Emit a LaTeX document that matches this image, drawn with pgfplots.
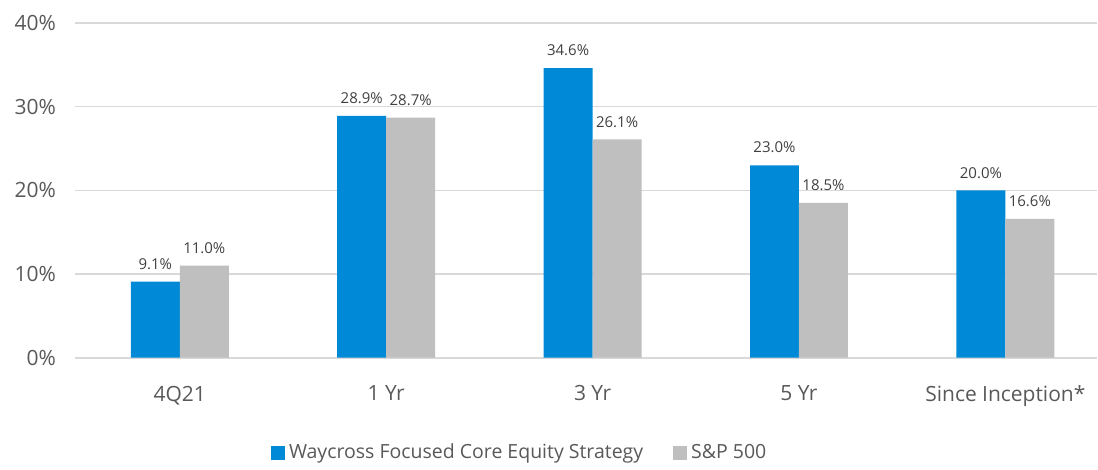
\documentclass[border=0pt]{standalone}
\usepackage{fontspec}
\setmainfont{Open Sans}
\usepackage{pgfplots}
\pgfplotsset{compat=1.18}
\definecolor{cblue}{HTML}{0089D6}
\definecolor{cgray}{HTML}{BFBFBF}
\definecolor{cgrid}{HTML}{D9D9D9}
\definecolor{ctext}{HTML}{595959}
\definecolor{clabel}{HTML}{404040}
\begin{document}
\begin{tikzpicture}
\begin{axis}[
  at={(0,0)}, anchor=south west,
  scale only axis,
  width=511.5pt, height=167.5pt,
  xmin=-0.508, xmax=4.445,
  ymin=0, ymax=40,
  ytick={0,10,20,30,40},
  yticklabels={0\%,10\%,20\%,30\%,40\%},
  xtick={0,1,2,3,4},
  xticklabels={4Q21,1 Yr,3 Yr,5 Yr,Since Inception*},
  axis line style={draw=none},
  major tick length=0pt,
  ymajorgrids,
  grid style={cgrid, line width=0.8pt},
  tick label style={font=\fontsize{10.5}{12}\selectfont, text=ctext},
  yticklabel style={xshift=-6pt},
  xticklabel style={yshift=-10.5pt},
  ybar,
  bar width=24.5pt,
  nodes near coords,
  nodes near coords style={font=\fontsize{7.5}{9}\selectfont, text=clabel, yshift=2.5pt},
  point meta=explicit symbolic,
  legend style={at={(axis description cs:0.436,-0.2836)}, anchor=center, draw=none, legend columns=-1, font=\fontsize{9.75}{11}\selectfont, text=ctext, /tikz/every even column/.append style={column sep=13pt}},
  legend image code/.code={\fill[#1] (0pt,-3.5pt) rectangle (7pt,3.5pt);},
]
\addplot[fill=cblue, draw=none, bar shift=-12.25pt] coordinates {(0,9.1)[9.1\%] (1,28.9)[28.9\%] (2,34.6)[34.6\%] (3,23.0)[23.0\%] (4,20.0)[20.0\%]};
\addplot[fill=cgray, draw=none, bar shift=12.25pt] coordinates {(0,11.0)[11.0\%] (1,28.7)[28.7\%] (2,26.1)[26.1\%] (3,18.5)[18.5\%] (4,16.6)[16.6\%]};
\legend{Waycross Focused Core Equity Strategy, S\&P 500}
\end{axis}
\useasboundingbox (-37.5pt,-54pt) rectangle (511.5pt,179pt);
\end{tikzpicture}
\end{document}
